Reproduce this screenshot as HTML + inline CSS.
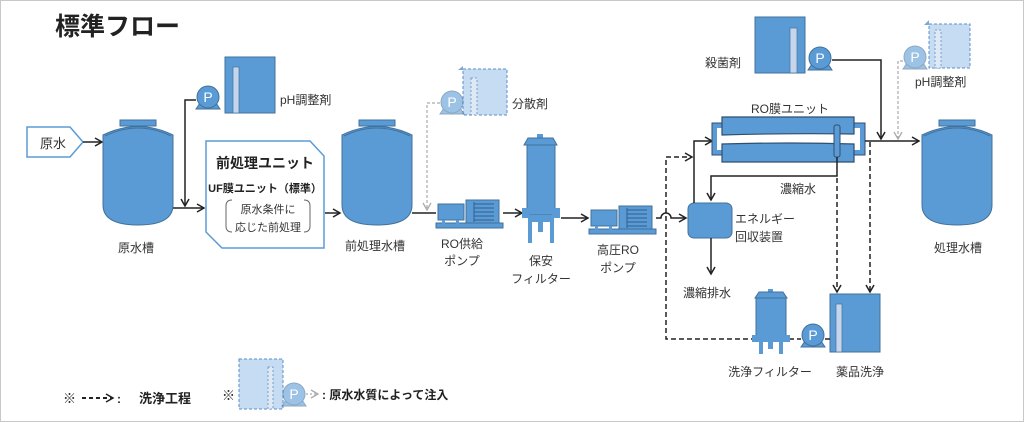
<!DOCTYPE html>
<html><head><meta charset="utf-8"><style>
html,body{margin:0;padding:0;background:#fff}
svg{display:block}
text{font-family:"Liberation Sans","Noto Sans CJK JP",sans-serif;fill:#333}
</style></head><body>
<svg width="1024" height="422" viewBox="0 0 1024 422" xmlns="http://www.w3.org/2000/svg">
<defs>
<marker id="a" markerWidth="10" markerHeight="10" refX="8" refY="5" orient="auto" markerUnits="userSpaceOnUse"><path d="M1,1 L8,5 L1,9" fill="none" stroke="#222" stroke-width="1.5"/></marker>
<marker id="g" markerWidth="10" markerHeight="10" refX="8" refY="5" orient="auto" markerUnits="userSpaceOnUse"><path d="M1,1 L8,5 L1,9" fill="none" stroke="#aaa" stroke-width="1.3"/></marker>
<g id="tank">
<rect x="17" y="0" width="36" height="6" fill="#5b9bd5" stroke="#41719c" stroke-width="1"/>
<path d="M0,15 Q35,-2 70,15 L70,85 Q70,105 35,105 Q0,105 0,85 Z" fill="#5b9bd5" stroke="#41719c" stroke-width="1"/>
<path d="M2,16 Q35,0 68,16" fill="none" stroke="#41719c" stroke-width="1"/>
</g>
<g id="pump">
<path d="M-12,12 L-8,6 L8,6 L12,12 Z" fill="#5b9bd5" stroke="#41719c"/>
<circle cx="0" cy="0" r="11" fill="#5b9bd5" stroke="#41719c"/>
<text x="0" y="5" font-size="14" text-anchor="middle" style="fill:#fff">P</text>
</g>
<g id="mpump">
<rect x="0" y="23" width="67" height="5" fill="#5b9bd5" stroke="#41719c"/>
<rect x="2" y="4" width="26" height="16" fill="#5b9bd5" stroke="#41719c"/>
<rect x="6" y="20" width="3" height="4" fill="#5b9bd5"/><rect x="20" y="20" width="3" height="4" fill="#5b9bd5"/>
<rect x="30" y="0" width="33" height="23" fill="#5b9bd5" stroke="#41719c"/>
<path d="M38,4 H58 M38,8 H58 M38,12 H58 M38,16 H58 M38,20 H58 M38,2 V22" stroke="#2f5f8f" stroke-width="1"/>
</g>
</defs>
<rect x="0.5" y="0.5" width="1023" height="421" fill="#fff" stroke="#c8c8c8"/>
<text x="55" y="35" font-size="25" font-weight="bold" style="fill:#222">標準フロー</text>

<path d="M27,127 H70 L83,142 L70,157 H27 Z" fill="#fff" stroke="#5b9bd5" stroke-width="1.5"/>
<text x="40" y="148" font-size="13">原水</text>
<line x1="83" y1="142" x2="102" y2="142" stroke="#222" stroke-width="1.5" marker-end="url(#a)"/>
<use href="#tank" x="103" y="120"/>
<text x="136" y="252" font-size="12" text-anchor="middle">原水槽</text>

<rect x="225" y="57" width="50" height="56" fill="#5b9bd5" stroke="#41719c"/>
<rect x="233" y="67" width="6" height="46" fill="#c5d5ec" stroke="#41719c" stroke-width=".7"/>
<use href="#pump" x="208" y="97"/>
<text x="280" y="104" font-size="12">pH調整剤</text>
<polyline points="196,100 185,100 185,206" fill="none" stroke="#222" stroke-width="1.5" marker-end="url(#a)"/>
<line x1="173" y1="208" x2="204" y2="208" stroke="#222" stroke-width="1.5" marker-end="url(#a)"/>

<path d="M206,141 H310 L324,156 V248 H222 L206,232 Z" fill="#fff" stroke="#5b9bd5" stroke-width="1.5"/>
<text x="265" y="168" font-size="14" font-weight="bold" text-anchor="middle" style="fill:#222">前処理ユニット</text>
<text x="265" y="192" font-size="11" font-weight="bold" text-anchor="middle" style="fill:#222">UF膜ユニット（標準）</text>
<text x="268" y="213" font-size="11" text-anchor="middle">原水条件に</text>
<text x="268" y="231" font-size="11" text-anchor="middle">応じた前処理</text>
<path d="M232,200 Q226,200 226,206 V226 Q226,232 232,232 M304,200 Q310,200 310,206 V226 Q310,232 304,232" fill="none" stroke="#666" stroke-width="1"/>
<line x1="325" y1="213" x2="340" y2="213" stroke="#222" stroke-width="1.5" marker-end="url(#a)"/>
<use href="#tank" x="342" y="120"/>
<text x="375" y="250" font-size="12" text-anchor="middle">前処理水槽</text>
<line x1="412" y1="213" x2="436" y2="213" stroke="#222" stroke-width="1.5"/>

<path d="M463,66 L458,70 H463" fill="#7fa7d5"/>
<rect x="463" y="69" width="44" height="46" fill="#c5dcf2" stroke="#5b8fc8" stroke-dasharray="3,2"/>
<rect x="471" y="78" width="6" height="37" fill="#e0e8f4" stroke="#5b8fc8" stroke-dasharray="2,2" stroke-width=".8"/>
<g opacity=".6"><use href="#pump" x="452" y="102"/></g>
<polyline points="440,103 427,103 427,210" fill="none" stroke="#aaa" stroke-width="1.2" stroke-dasharray="3,2" marker-end="url(#g)"/>
<text x="512" y="108" font-size="12">分散剤</text>

<use href="#mpump" x="436" y="200"/>
<text x="462" y="248" font-size="12" text-anchor="middle">RO供給</text>
<text x="462" y="265" font-size="12" text-anchor="middle">ポンプ</text>
<line x1="503" y1="213" x2="522" y2="213" stroke="#222" stroke-width="1.5" marker-end="url(#a)"/>

<rect x="537" y="134" width="6" height="4" fill="#5b9bd5"/>
<path d="M524,145 L528,138 H553 L557,145 Z" fill="#5b9bd5" stroke="#41719c"/>
<rect x="527" y="145" width="28" height="70" fill="#5b9bd5" stroke="#41719c"/>
<rect x="522" y="208" width="8" height="10" fill="#5b9bd5"/><rect x="552" y="208" width="8" height="10" fill="#5b9bd5"/>
<path d="M527,215 L532,222 H550 L555,215 Z" fill="#5b9bd5"/>
<rect x="528" y="215" width="4" height="28" fill="#5b9bd5"/><rect x="550" y="215" width="4" height="28" fill="#5b9bd5"/><rect x="538" y="220" width="5" height="12" fill="#5b9bd5"/>
<text x="541" y="265" font-size="12" text-anchor="middle">保安</text>
<text x="541" y="283" font-size="12" text-anchor="middle">フィルター</text>
<line x1="561" y1="218" x2="588" y2="218" stroke="#222" stroke-width="1.5" marker-end="url(#a)"/>
<use href="#mpump" x="589" y="206"/>
<text x="618" y="254" font-size="12" text-anchor="middle">高圧RO</text>
<text x="618" y="272" font-size="12" text-anchor="middle">ポンプ</text>
<path d="M656,218 H661 A5,5 0 0 1 671,218 H686" fill="none" stroke="#222" stroke-width="1.5" marker-end="url(#a)"/>

<rect x="688" y="203" width="44" height="35" rx="6" fill="#5b9bd5" stroke="#41719c"/>
<text x="735" y="223" font-size="12">エネルギー</text>
<text x="735" y="241" font-size="12">回収装置</text>
<polyline points="694,203 694,141 712,141" fill="none" stroke="#222" stroke-width="1.5" marker-end="url(#a)"/>
<polyline points="711,238 711,274" fill="none" stroke="#222" stroke-width="1.5" marker-end="url(#a)"/>
<text x="683" y="297" font-size="12">濃縮排水</text>
<polyline points="756,339 666,339 666,157 692,157" fill="none" stroke="#222" stroke-width="1.5" stroke-dasharray="5,3" marker-end="url(#a)"/>

<text x="790" y="113" font-size="12" text-anchor="middle">RO膜ユニット</text>
<rect x="712" y="123" width="12" height="32" fill="#5b9bd5" stroke="#2f4f6f"/>
<rect x="717" y="128" width="8" height="22" fill="#fff"/>
<rect x="853" y="123" width="12" height="32" fill="#5b9bd5" stroke="#2f4f6f"/>
<rect x="852" y="128" width="8" height="22" fill="#fff"/>
<path d="M722,117 H854 V134 Q790,133 722,135 Z" fill="#5b9bd5" stroke="#2f4f6f" stroke-width="1.2"/>
<path d="M722,144 Q790,142 854,144 V162 H722 Z" fill="#5b9bd5" stroke="#2f4f6f" stroke-width="1.2"/>
<rect x="834" y="125" width="6" height="32" rx="2" fill="#5b9bd5" stroke="#2f4f6f"/>
<polyline points="837,157 837,176 711,176 711,200" fill="none" stroke="#222" stroke-width="1.5" marker-end="url(#a)"/>
<text x="780" y="193" font-size="12">濃縮水</text>
<line x1="865" y1="141" x2="919" y2="141" stroke="#222" stroke-width="1.5" marker-end="url(#a)"/>

<rect x="755" y="17" width="50" height="56" fill="#5b9bd5" stroke="#41719c"/>
<rect x="790" y="28" width="7" height="45" fill="#c5d5ec" stroke="#41719c" stroke-width=".7"/>
<use href="#pump" x="820" y="58"/>
<text x="705" y="67" font-size="12">殺菌剤</text>
<polyline points="832,60 881,60 881,139" fill="none" stroke="#222" stroke-width="1.5" marker-end="url(#a)"/>

<path d="M929,20 L924,25 H929" fill="#7fa7d5"/>
<rect x="929" y="24" width="41" height="44" fill="#c5dcf2" stroke="#5b8fc8" stroke-dasharray="3,2"/>
<rect x="935" y="30" width="6" height="38" fill="#e0e8f4" stroke="#5b8fc8" stroke-dasharray="2,2" stroke-width=".8"/>
<g opacity=".6"><use href="#pump" x="915" y="57"/></g>
<polyline points="903,61 898,61 898,139" fill="none" stroke="#aaa" stroke-width="1.2" stroke-dasharray="3,2" marker-end="url(#g)"/>
<text x="915" y="86" font-size="12">pH調整剤</text>

<use href="#tank" x="922" y="120"/>
<text x="958" y="252" font-size="12" text-anchor="middle">処理水槽</text>

<line x1="837" y1="178" x2="837" y2="292" stroke="#222" stroke-width="1.5" stroke-dasharray="5,3" marker-end="url(#a)"/>
<line x1="870" y1="142" x2="870" y2="292" stroke="#222" stroke-width="1.5" stroke-dasharray="5,3" marker-end="url(#a)"/>

<rect x="830" y="294" width="50" height="58" fill="#5b9bd5" stroke="#41719c"/>
<rect x="836" y="304" width="6" height="48" fill="#c5d5ec" stroke="#41719c" stroke-width=".7"/>
<line x1="825" y1="339" x2="830" y2="339" stroke="#222" stroke-width="1.5"/>
<use href="#pump" x="813" y="335"/>
<text x="860" y="376" font-size="12" text-anchor="middle">薬品洗浄</text>
<rect x="768" y="289" width="5" height="4" fill="#5b9bd5"/>
<path d="M755,298 L759,292 H783 L787,298 Z" fill="#5b9bd5" stroke="#41719c"/>
<rect x="756" y="298" width="30" height="42" fill="#5b9bd5" stroke="#41719c"/>
<rect x="752" y="335" width="38" height="7" fill="#5b9bd5"/>
<rect x="759" y="340" width="4" height="14" fill="#5b9bd5"/><rect x="779" y="340" width="4" height="14" fill="#5b9bd5"/><rect x="768" y="340" width="5" height="9" fill="#5b9bd5"/>
<line x1="790" y1="339" x2="801" y2="339" stroke="#222" stroke-width="1.5" stroke-dasharray="4,3"/>
<text x="770" y="376" font-size="12" text-anchor="middle">洗浄フィルター</text>

<text x="63" y="403" font-size="13" style="fill:#222">※</text>
<line x1="82" y1="398" x2="113" y2="398" stroke="#222" stroke-width="2" stroke-dasharray="4,3" marker-end="url(#a)"/>
<text x="117" y="403" font-size="12" font-weight="bold" style="fill:#222">:</text>
<text x="139" y="403" font-size="13" font-weight="bold" style="fill:#222">洗浄工程</text>
<text x="222" y="400" font-size="13" style="fill:#222">※</text>
<rect x="239" y="359" width="44" height="50" fill="#c5dcf2" stroke="#5b8fc8" stroke-dasharray="3,2"/>
<rect x="268" y="367" width="5" height="42" fill="#e0e8f4" stroke="#5b8fc8" stroke-dasharray="2,2" stroke-width=".8"/>
<g opacity=".6"><use href="#pump" x="294" y="394"/></g>
<line x1="306" y1="394" x2="318" y2="394" stroke="#aaa" stroke-width="1.2" stroke-dasharray="2,2" marker-end="url(#g)"/>
<text x="322" y="399" font-size="12" font-weight="bold" style="fill:#222">: 原水水質によって注入</text>
</svg>
</body></html>
